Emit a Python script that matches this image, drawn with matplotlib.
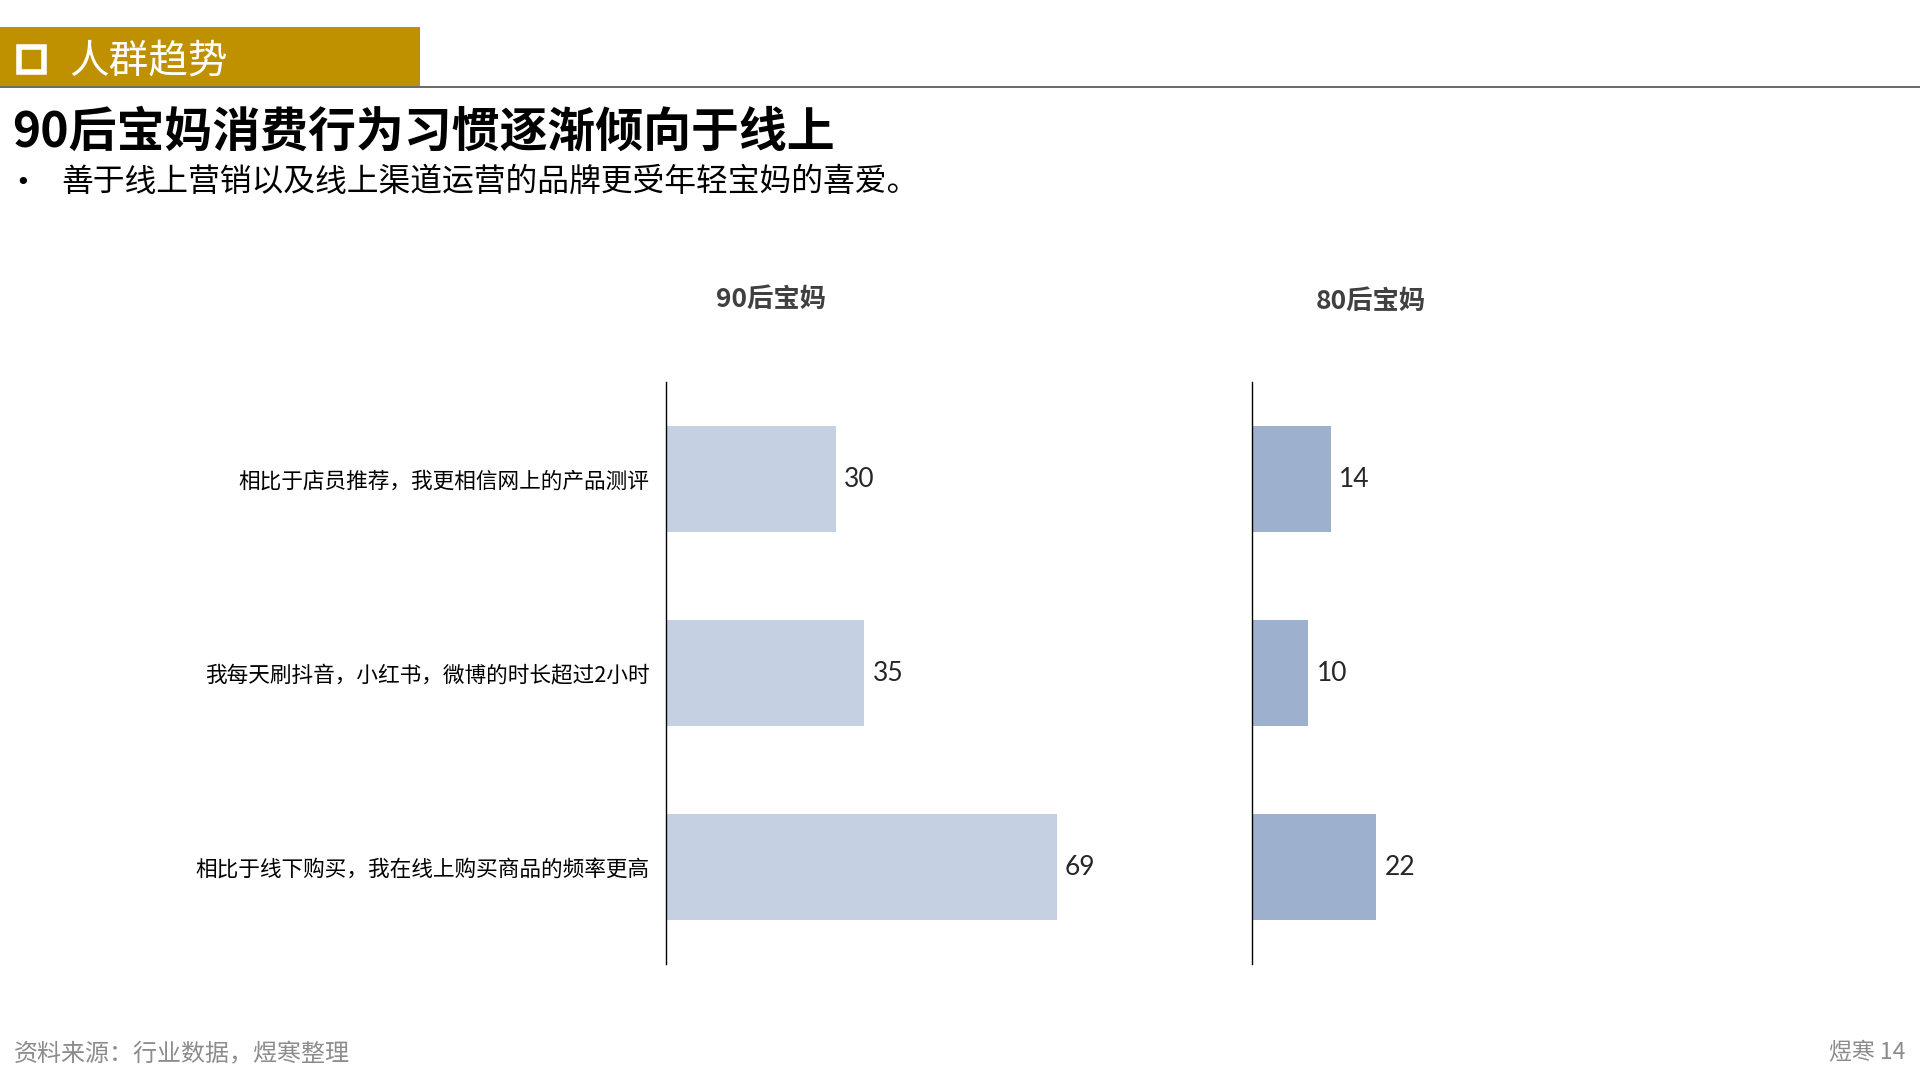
import matplotlib
matplotlib.use("Agg")
import matplotlib.pyplot as plt
from matplotlib.patches import Rectangle

plt.rcParams['font.family'] = ['Noto Sans CJK SC', 'DejaVu Sans']

# ---- data ----
categories = ["相比于店员推荐，我更相信网上的产品测评",
              "我每天刷抖音，小红书，微博的时长超过2小时",
              "相比于线下购买，我在线上购买商品的频率更高"]
values_90 = [30, 35, 69]
values_80 = [14, 10, 22]
panel_titles = ["90后宝妈", "80后宝妈"]
section_label = "人群趋势"
title = "90后宝妈消费行为习惯逐渐倾向于线上"
bullet = "善于线上营销以及线上渠道运营的品牌更受年轻宝妈的喜爱。"
source = "资料来源：行业数据，煜寒整理"
page = "煜寒 14"

W, H = 1920, 1080
fig = plt.figure(figsize=(W / 100, H / 100), dpi=100)
fig.patch.set_facecolor("white")

def fx(px):
    return px / W

def fy(py):
    return 1 - py / H

# ---- header banner ----
fig.patches.append(Rectangle((fx(0), fy(86)), fx(420), 59 / H, transform=fig.transFigure,
                             facecolor="#BF9000", edgecolor="none", zorder=1))
fig.patches.append(Rectangle((fx(19), fy(72)), 25 / W, 25 / H, transform=fig.transFigure,
                             facecolor="none", edgecolor="white", linewidth=4.0, zorder=2))
fig.lines.append(plt.Line2D([0, 1], [fy(86.5), fy(86.5)], transform=fig.transFigure,
                            color="#505050", linewidth=1.2, zorder=3))
fig.text(fx(69), fy(61), section_label, color="white", fontsize=28.5,
         va="center", ha="left")

# ---- title & bullet ----
fig.text(fx(12), fy(132), title, fontsize=34.5, fontweight="bold", color="black",
         va="center", ha="left")
fig.text(fx(15), fy(183), "•", fontsize=18, color="black", va="center", ha="left",
         family=['DejaVu Sans'])
fig.text(fx(61), fy(182), bullet, fontsize=22.9, color="black", va="center", ha="left")

# ---- panels ----
y_top, y_bot = 382, 964
scale_px = 5.66  # px per unit
xmax = 80
ax_w = xmax * scale_px
y_pos = list(range(len(categories)))

ax_specs = [
    (666, values_90, "#C5D0E2", True, 771, 299),
    (1251.5, values_80, "#9DB0CE", False, 1371, 301),
]
for (x0, vals, color, show_labels, tx, ty), ptitle in zip(ax_specs, panel_titles):
    ax = fig.add_axes([fx(x0), fy(y_bot), ax_w / W, (y_bot - y_top) / H])
    bars = ax.barh(y_pos, vals, height=0.547, color=color, edgecolor="none")
    ax.set_xlim(0, xmax)
    ax.set_ylim(len(categories) - 0.5, -0.5)
    for s in ["top", "right", "bottom"]:
        ax.spines[s].set_visible(False)
    ax.spines["left"].set_color("black")
    ax.spines["left"].set_linewidth(1.0)
    ax.set_xticks([])
    ax.set_yticks(y_pos)
    if show_labels:
        ax.set_yticklabels(categories, fontsize=15.6, color="black")
    else:
        ax.set_yticklabels([])
    ax.tick_params(axis="y", length=0, pad=12)
    ax.bar_label(bars, labels=[str(v) for v in vals], padding=6, fontsize=19,
                 color="#262626", family=['Lato', 'DejaVu Sans'])
    ax.patch.set_alpha(0)
    fig.text(fx(tx), fy(ty), ptitle, fontsize=19, fontweight="bold", color="#404040",
             ha="center", va="center")

# ---- footer ----
fig.text(fx(14), fy(1054), source, fontsize=17.3, color="#8C8C8C", va="center", ha="left")
fig.text(fx(1905), fy(1053), page, fontsize=16.5, color="#8C8C8C", va="center", ha="right")

fig.savefig("out.png", dpi=100, facecolor="white")
